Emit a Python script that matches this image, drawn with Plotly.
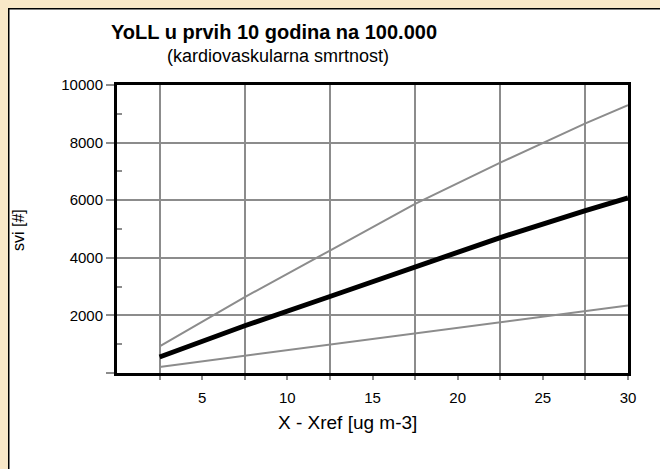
import plotly.graph_objects as go

# koncentracija iznad referentne
x_vals = [2.5, 7.5, 12.5, 17.5, 22.5, 27.5, 30]

# YoLL na 100.000 - srednja vrijednost i granice
yoll_mid = [555, 1640, 2656, 3696, 4702, 5638, 6078]
yoll_high = [923, 2635, 4252, 5870, 7303, 8668, 9303]
yoll_low = [208, 600, 981, 1363, 1768, 2150, 2345]

x_ticks = [5, 10, 15, 20, 25, 30]
x_grid = [2.5, 7.5, 12.5, 17.5, 22.5, 27.5]
y_ticks = [0, 2000, 4000, 6000, 8000, 10000]
y_labels = ['', '2000', '4000', '6000', '8000', '10000']
y_minor = [1000, 3000, 5000, 7000, 9000]

# graf pocinje na (8, 8) i ide do ruba prozora
OX, OY = 8, 8
W, H = 652, 461
L, T = 109, 77
pw, ph = 511, 288
R, B = W - L - pw, H - T - ph


def px(x):
    return (x - OX - L) / pw


def py(y):
    return (T + ph - (y - OY)) / ph


grey = '#8c8c8c'

fig = go.Figure()

fig.add_trace(go.Scatter(x=x_vals, y=yoll_high, mode='lines',
                         line={'color': grey, 'width': 2}, name='gornja'))
fig.add_trace(go.Scatter(x=x_vals, y=yoll_low, mode='lines',
                         line={'color': grey, 'width': 2}, name='donja'))
fig.add_trace(go.Scatter(x=x_vals, y=yoll_mid, mode='lines',
                         line={'color': 'black', 'width': 5}, name='svi'))

fig.update_layout(
    width=W, height=H,
    margin=dict(l=L, r=R, t=T, b=B),
    paper_bgcolor='white',
    plot_bgcolor='white',
    showlegend=False,
    font=dict(family='Arial, Liberation Sans, sans-serif', size=15, color='black'),
    shapes=[dict(type='rect', xref='paper', yref='paper', layer='below',
                 x0=px(8), x1=px(700), y0=py(510), y1=py(8),
                 fillcolor='white', line=dict(color='black', width=3))],
    xaxis=dict(
        range=[0, 30],
        tickvals=x_ticks,
        ticks='outside', ticklen=4, tickwidth=2, tickcolor=grey,
        ticklabelstandoff=5,
        showgrid=False, zeroline=False,
        showline=True, linecolor='black', linewidth=3, mirror=True,
        minor=dict(tickvals=x_grid, showgrid=True, gridcolor=grey, gridwidth=2,
                   ticks='outside', ticklen=4, tickwidth=2, tickcolor=grey),
    ),
    yaxis=dict(
        range=[0, 10000],
        tickvals=y_ticks, ticktext=y_labels,
        ticks='outside', ticklen=8, tickwidth=2, tickcolor=grey,
        showgrid=True, gridcolor=grey, gridwidth=2, zeroline=False,
        showline=True, linecolor='black', linewidth=3, mirror=True,
        minor=dict(tickvals=y_minor, ticks='inside', ticklen=5, tickwidth=2,
                   tickcolor=grey, showgrid=False),
    ),
    annotations=[
        dict(text='<b>YoLL u prvih 10 godina na 100.000</b>', xref='paper', yref='paper',
             x=px(274), y=py(32), showarrow=False, font=dict(size=20),
             xanchor='center', yanchor='middle'),
        dict(text='(kardiovaskularna smrtnost)', xref='paper', yref='paper',
             x=px(278), y=py(56), showarrow=False, font=dict(size=18),
             xanchor='center', yanchor='middle'),
        dict(text='X - Xref [ug m-3]', xref='paper', yref='paper',
             x=px(347), y=py(422), showarrow=False, font=dict(size=19),
             xanchor='center', yanchor='middle'),
        dict(text='svi [#]', xref='paper', yref='paper', textangle=-90,
             x=px(18), y=py(230), showarrow=False, font=dict(size=16),
             xanchor='center', yanchor='middle'),
    ],
)

fig.write_html('out.html', post_script=(
    "document.body.style.background = '#f9e8c8';"
    "document.body.style.margin = '8px 0 0 8px';"
))
